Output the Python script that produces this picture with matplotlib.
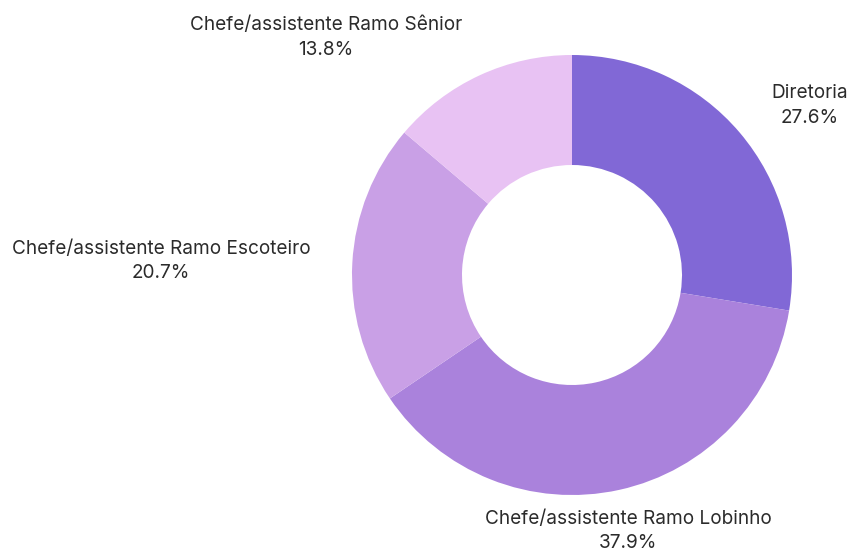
import numpy as np
import matplotlib
matplotlib.use("Agg")
import matplotlib.pyplot as plt

# dados do gráfico
categorias = ["Diretoria", "Chefe/assistente Ramo Lobinho",
              "Chefe/assistente Ramo Escoteiro", "Chefe/assistente Ramo Sênior"]
valores = [8, 11, 6, 4]
cores = ["#8168d6", "#aa82dc", "#c9a0e6", "#e8c2f3"]

plt.rcParams["font.family"] = ["Inter", "DejaVu Sans"]

fig = plt.figure(figsize=(8.51, 5.52), dpi=100)
# eixo quadrado centrado no donut (centro ~ (572, 275) px, raio ~220 px)
W, H = 851, 552
lim = 1.3
side = 2 * lim * 220
cx, cy = 572, H - 275
ax = fig.add_axes([(cx - side / 2) / W, (cy - side / 2) / H, side / W, side / H])

wedges, _ = ax.pie(valores, colors=cores, startangle=90, counterclock=False,
                   radius=1.0, wedgeprops=dict(width=0.5, linewidth=0))

total = sum(valores)
for w, cat, v in zip(wedges, categorias, valores):
    ang = np.deg2rad((w.theta1 + w.theta2) / 2)
    c, s = np.cos(ang), np.sin(ang)
    x, y = 1.19 * c, 1.19 * s
    if abs(c) < 0.3:
        ha = "center"
    else:
        ha = "left" if c > 0 else "right"
    ax.text(x, y, f"{cat}\n{v / total * 100:.1f}%", ha=ha, va="center",
            multialignment="center", fontsize=13.7, color="#2b2b2b",
            linespacing=1.45, clip_on=False)

ax.set_xlim(-lim, lim)
ax.set_ylim(-lim, lim)
ax.set_aspect("equal")
ax.axis("off")

fig.savefig("out.png", dpi=100)
